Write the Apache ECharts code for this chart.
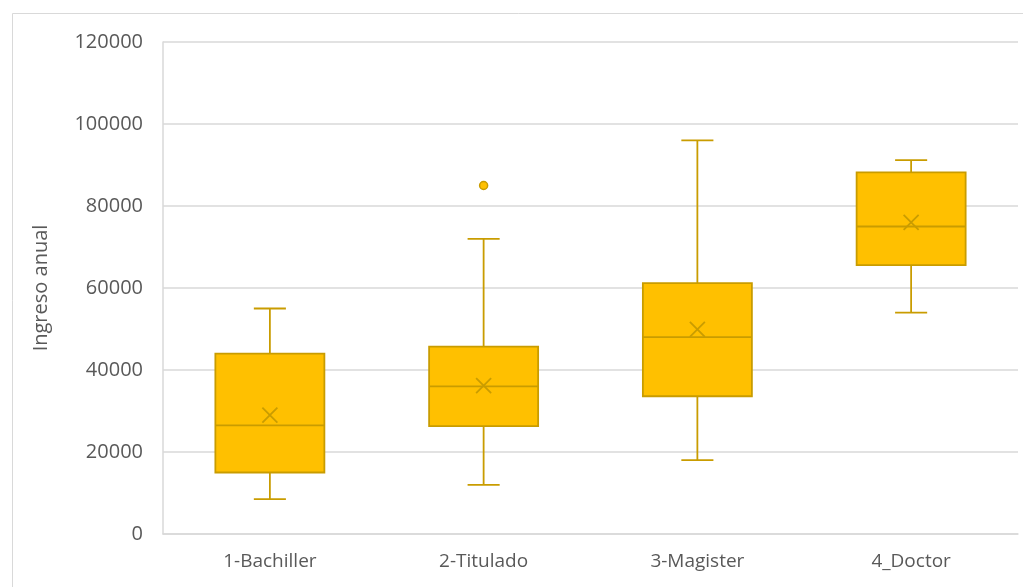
<!DOCTYPE html>
<html>
<head>
<meta charset="utf-8">
<script src="https://cdn.jsdelivr.net/npm/echarts@6/dist/echarts.min.js"></script>
<style>
html,body{margin:0;padding:0;background:#fff;}
#chart{width:1023px;height:587px;}
</style>
</head>
<body>
<div id="chart"></div>
<script>
const categories = ['1-Bachiller', '2-Titulado', '3-Magister', '4_Doctor'];
const whiskerLow = [8500, 12000, 18000, 54000];
const q1Values = [15000, 26300, 33600, 65600];
const medianValues = [26500, 36000, 48000, 75000];
const q3Values = [44000, 45700, 61200, 88200];
const whiskerHigh = [55000, 72000, 96000, 91200];
const meanValues = [29000, 36200, 49900, 76000];
const outliers = [[1, 85000]];
const yTicks = [0, 20000, 40000, 60000, 80000, 100000, 120000];

const fill = '#FFC000';
const stroke = '#C99C00';

const boxData = categories.map((c, i) => [i, whiskerLow[i], q1Values[i], medianValues[i], q3Values[i], whiskerHigh[i], meanValues[i]]);

function renderBox(params, api) {
  const idx = api.value(0);
  const band = api.size([1, 0])[0];
  const half = band * 0.255;
  const capHalf = band * 0.075;
  const xHalfMark = 7.5;
  const pLow = api.coord([idx, api.value(1)]);
  const pQ1 = api.coord([idx, api.value(2)]);
  const pMed = api.coord([idx, api.value(3)]);
  const pQ3 = api.coord([idx, api.value(4)]);
  const pHigh = api.coord([idx, api.value(5)]);
  const pMean = api.coord([idx, api.value(6)]);
  const cx = pMed[0];
  const ls = { stroke: stroke, lineWidth: 1.8 };
  return {
    type: 'group',
    children: [
      { type: 'line', shape: { x1: cx, y1: pHigh[1], x2: cx, y2: pQ3[1] }, style: ls },
      { type: 'line', shape: { x1: cx, y1: pLow[1], x2: cx, y2: pQ1[1] }, style: ls },
      { type: 'line', shape: { x1: cx - capHalf, y1: pHigh[1], x2: cx + capHalf, y2: pHigh[1] }, style: ls },
      { type: 'line', shape: { x1: cx - capHalf, y1: pLow[1], x2: cx + capHalf, y2: pLow[1] }, style: ls },
      { type: 'rect', shape: { x: cx - half, y: pQ3[1], width: half * 2, height: pQ1[1] - pQ3[1] }, style: { fill: fill, stroke: stroke, lineWidth: 1.8 } },
      { type: 'line', shape: { x1: cx - half, y1: pMed[1], x2: cx + half, y2: pMed[1] }, style: ls },
      { type: 'line', shape: { x1: cx - xHalfMark, y1: pMean[1] - xHalfMark, x2: cx + xHalfMark, y2: pMean[1] + xHalfMark }, style: ls },
      { type: 'line', shape: { x1: cx - xHalfMark, y1: pMean[1] + xHalfMark, x2: cx + xHalfMark, y2: pMean[1] - xHalfMark }, style: ls }
    ]
  };
}

const chart = echarts.init(document.getElementById('chart'));
chart.setOption({
  animation: false,
  backgroundColor: '#fff',
  graphic: [{
    type: 'rect', left: 10, top: 11, shape: { width: 1030, height: 600 },
    style: { fill: 'none', stroke: '#D9D9D9', lineWidth: 1 }, silent: true
  }],
  grid: { left: 163, right: 5, top: 42, bottom: 53 },
  xAxis: {
    type: 'category',
    data: categories,
    axisTick: { show: false },
    axisLine: { lineStyle: { color: '#D9D9D9', width: 1.5 } },
    axisLabel: { color: '#595959', fontSize: 19, fontFamily: 'Open Sans', margin: 18 }
  },
  yAxis: {
    type: 'value',
    min: 0, max: 120000, interval: 20000,
    name: 'Ingreso anual',
    nameLocation: 'middle',
    nameGap: 112,
    nameTextStyle: { color: '#595959', fontSize: 20, fontFamily: 'Open Sans' },
    axisLine: { show: true, lineStyle: { color: '#D9D9D9', width: 1.5 } },
    axisTick: { show: false },
    splitLine: { lineStyle: { color: '#D9D9D9', width: 1.5 } },
    axisLabel: {
      color: '#595959', fontSize: 20, fontFamily: 'Open Sans', margin: 20,
      formatter: v => yTicks.includes(v) ? String(v) : ''
    }
  },
  series: [
    {
      type: 'custom',
      renderItem: renderBox,
      data: boxData,
      encode: { x: 0, y: [1, 2, 3, 4, 5, 6] },
      z: 3
    },
    {
      type: 'scatter',
      data: outliers,
      symbol: 'circle',
      symbolSize: 8,
      itemStyle: { color: fill, borderColor: stroke, borderWidth: 1.5, opacity: 1 },
      z: 4
    }
  ]
});
</script>
</body>
</html>
